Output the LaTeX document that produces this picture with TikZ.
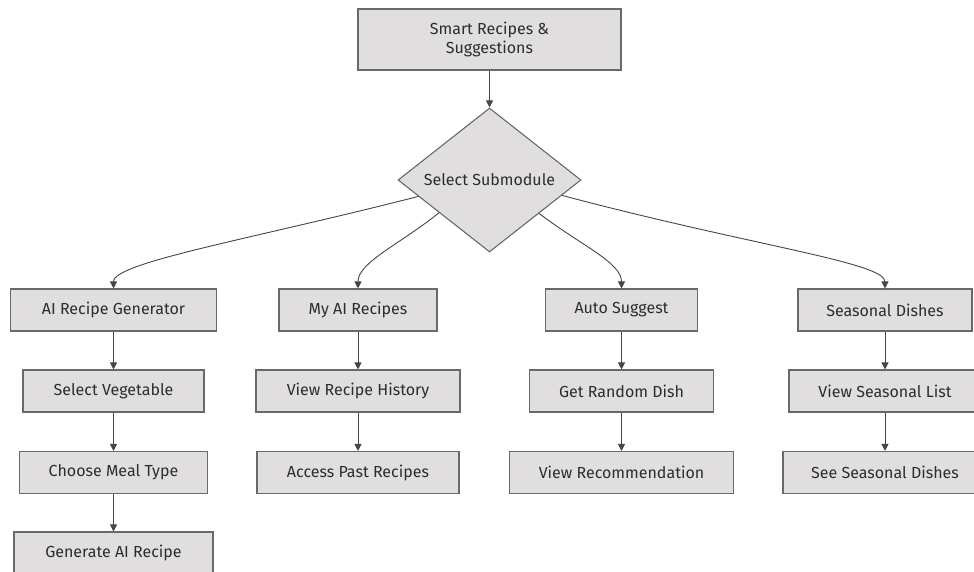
\documentclass[tikz,border=0pt]{standalone}
\usepackage{fontspec}
\setmainfont{Fira Sans}
\usetikzlibrary{arrows.meta,shapes.geometric}
\definecolor{boxfill}{RGB}{224,222,223}
\definecolor{boxline}{RGB}{105,105,105}
\definecolor{txt}{RGB}{45,45,45}
\definecolor{edgecol}{RGB}{70,70,70}
\begin{document}
\begin{tikzpicture}[x=1pt,y=-1pt,
  box/.style={draw=boxline,fill=boxfill,line width=1.1pt,rectangle,minimum height=42pt,inner sep=0pt,
    text=txt,font=\fontsize{16}{19.5}\selectfont,align=center},
  dia/.style={draw=boxline,fill=boxfill,line width=1.1pt,diamond,minimum width=183pt,minimum height=144pt,inner sep=0pt,
    text=txt,font=\fontsize{16}{19.5}\selectfont},
  arr/.style={draw=edgecol,line width=0.9pt,-{Triangle[length=7pt,width=7pt]}}]
\useasboundingbox (0,0) rectangle (974,571);
\clip (0,0) rectangle (974,571);
\fill[white] (0,0) rectangle (974,571);
% top
\node[box,minimum width=263pt,minimum height=61pt] (top) at (489.5,39.5) {Smart Recipes \&\\Suggestions};
\node[dia] (sel) at (489.5,180) {Select Submodule};
% row 1
\node[box,minimum width=206pt] (gen) at (113.5,310) {AI Recipe Generator};
\node[box,minimum width=158pt] (my) at (358,310) {My AI Recipes};
\node[box,minimum width=152pt] (auto) at (621.5,310) {Auto Suggest};
\node[box,minimum width=174pt] (seas) at (885,310) {Seasonal Dishes};
% row 2
\node[box,minimum width=181pt] (veg) at (113.5,391) {Select Vegetable};
\node[box,minimum width=204pt] (hist) at (358,391) {View Recipe History};
\node[box,minimum width=184pt] (rand) at (621.5,391) {Get Random Dish};
\node[box,minimum width=192pt] (slist) at (885,391) {View Seasonal List};
% row 3
\node[box,minimum width=188pt] (meal) at (113.5,472.5) {Choose Meal Type};
\node[box,minimum width=202pt] (past) at (358,472.5) {Access Past Recipes};
\node[box,minimum width=224pt] (rec) at (621.5,472.5) {View Recommendation};
\node[box,minimum width=204pt] (sdish) at (885,472.5) {See Seasonal Dishes};
% row 4
\node[box,minimum width=199pt] (ai) at (113.5,553) {Generate AI Recipe};
% connectors
\draw[arr] (top) -- (sel);
\draw[arr] (sel.193) .. controls +(-168,43) and +(0,-26) .. (gen.north);
\draw[arr] (sel.213) .. controls +(-40,32) and +(0,-26) .. (my.north);
\draw[arr] (sel.326) .. controls +(42,32) and +(0,-26) .. (auto.north);
\draw[arr] (sel.348) .. controls +(188,50) and +(0,-26) .. (seas.north);
\draw[arr] (gen) -- (veg);
\draw[arr] (veg) -- (meal);
\draw[arr] (meal) -- (ai);
\draw[arr] (my) -- (hist);
\draw[arr] (hist) -- (past);
\draw[arr] (auto) -- (rand);
\draw[arr] (rand) -- (rec);
\draw[arr] (seas) -- (slist);
\draw[arr] (slist) -- (sdish);
\end{tikzpicture}
\end{document}
